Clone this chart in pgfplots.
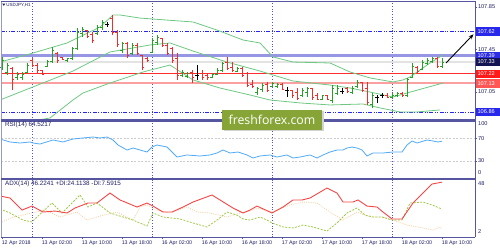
\documentclass[border=0pt]{standalone}
\usepackage{pgfplots}
\pgfplotsset{compat=1.18}
\usepackage{pgfplotstable}
\usepackage{fontspec}
\setmainfont{Liberation Sans}
\newfontfamily\wmfont{Open Sans}
\usetikzlibrary{arrows.meta}

\definecolor{frame}{RGB}{85,85,160}
\definecolor{navy}{RGB}{30,30,100}
\definecolor{barup}{RGB}{40,160,40}
\definecolor{bardn}{RGB}{238,45,45}
\definecolor{band}{RGB}{110,200,130}
\definecolor{sep}{RGB}{80,80,225}
\definecolor{lvlblue}{RGB}{40,40,235}
\definecolor{rsiblue}{RGB}{80,170,250}
\definecolor{adxred}{RGB}{245,70,70}
\definecolor{pdi}{RGB}{160,200,70}
\definecolor{mdi}{RGB}{245,210,165}
\definecolor{wm}{RGB}{135,165,55}
\definecolor{lav}{RGB}{150,150,228}
\definecolor{pinkl}{RGB}{250,160,160}
\definecolor{redl}{RGB}{255,45,45}
\definecolor{box39}{RGB}{45,45,225}
\definecolor{box33}{RGB}{20,20,85}
\definecolor{box22}{RGB}{255,25,25}
\definecolor{box13}{RGB}{255,85,85}

\newcommand\pfont{\fontsize{5.6}{6}\selectfont}
\newcommand\xfont{\fontsize{5.3}{6}\selectfont}
\newcommand\ifont{\fontsize{6.3}{7}\selectfont}
\newcommand\tfont{\fontsize{4.5}{5}\selectfont}

\pgfdeclareplotmark{otick}{\pgfpathmoveto{\pgfqpoint{-2pt}{0pt}}\pgfpathlineto{\pgfqpoint{0pt}{0pt}}\pgfusepathqstroke}
\pgfdeclareplotmark{ctick}{\pgfpathmoveto{\pgfqpoint{0pt}{0pt}}\pgfpathlineto{\pgfqpoint{2pt}{0pt}}\pgfusepathqstroke}

\pgfplotstableread{
i o h l c d
0 107.284 107.379 107.256 107.350 1
1 107.237 107.322 107.209 107.303 1
2 107.275 107.284 107.067 107.162 2
3 107.181 107.237 107.162 107.218 1
4 107.190 107.237 107.162 107.218 1
5 107.237 107.322 107.228 107.303 1
6 107.350 107.369 107.284 107.303 2
7 107.303 107.322 107.228 107.256 2
8 107.256 107.256 107.209 107.218 2
9 107.294 107.350 107.284 107.341 1
10 107.341 107.473 107.322 107.445 1
11 107.416 107.426 107.322 107.350 2
12 107.379 107.379 107.350 107.360 2
13 107.350 107.369 107.331 107.369 1
14 107.369 107.473 107.350 107.463 1
15 107.463 107.652 107.445 107.614 1
16 107.605 107.661 107.567 107.643 1
17 107.633 107.633 107.558 107.577 2
18 107.595 107.614 107.511 107.539 2
19 107.605 107.680 107.586 107.661 1
20 107.661 107.727 107.633 107.709 1
21 107.690 107.709 107.661 107.690 0
22 107.746 107.775 107.586 107.614 2
23 107.614 107.633 107.473 107.501 2
24 107.445 107.520 107.416 107.511 1
25 107.511 107.520 107.369 107.397 2
26 107.416 107.511 107.397 107.492 1
27 107.492 107.511 107.397 107.416 2
28 107.397 107.397 107.256 107.284 2
29 107.369 107.379 107.331 107.350 2
30 107.426 107.558 107.416 107.539 1
31 107.520 107.586 107.492 107.567 1
32 107.558 107.558 107.473 107.492 2
33 107.492 107.511 107.397 107.416 2
34 107.463 107.473 107.322 107.350 2
35 107.369 107.416 107.162 107.209 2
36 107.209 107.256 107.190 107.237 1
37 107.199 107.237 107.181 107.228 1
38 107.237 107.256 107.133 107.190 2
39 107.209 107.303 107.162 107.209 0
40 107.228 107.256 107.162 107.181 2
41 107.209 107.228 107.162 107.181 2
42 107.190 107.228 107.181 107.218 1
43 107.218 107.275 107.209 107.256 1
44 107.256 107.331 107.237 107.313 1
45 107.331 107.379 107.256 107.275 2
46 107.284 107.331 107.237 107.256 2
47 107.246 107.284 107.237 107.275 1
48 107.275 107.284 107.190 107.209 2
49 107.228 107.237 107.096 107.114 2
50 107.124 107.162 107.086 107.105 2
51 107.048 107.096 107.020 107.086 1
52 107.077 107.133 107.048 107.114 1
53 107.124 107.143 107.048 107.067 2
54 107.105 107.143 107.096 107.133 1
55 107.096 107.133 107.086 107.124 1
56 107.124 107.133 107.067 107.077 2
57 107.067 107.096 107.001 107.067 0
58 107.067 107.067 106.992 107.011 2
59 107.048 107.086 106.973 106.992 2
60 107.020 107.086 107.001 107.067 1
61 107.048 107.096 107.001 107.086 1
62 107.086 107.086 106.973 107.001 2
63 107.020 107.039 106.973 106.982 2
64 106.982 107.020 106.973 107.011 1
65 107.011 107.020 106.973 106.982 2
66 106.973 107.114 106.945 107.086 1
67 107.039 107.114 107.020 107.086 1
68 107.058 107.086 107.030 107.058 0
69 107.086 107.096 107.039 107.058 2
70 107.048 107.105 107.030 107.086 1
71 107.096 107.162 107.086 107.143 1
72 107.143 107.143 107.048 107.067 2
73 107.086 107.143 106.926 106.945 2
74 106.935 107.039 106.898 107.011 1
75 107.001 107.020 106.945 107.001 0
76 107.011 107.039 106.992 107.011 0
77 107.020 107.039 106.992 107.001 2
78 107.001 107.039 106.992 107.020 1
79 107.011 107.048 107.001 107.030 1
80 107.030 107.048 107.001 107.011 2
81 107.011 107.181 107.001 107.162 1
82 107.181 107.322 107.181 107.294 1
83 107.284 107.294 107.228 107.246 2
84 107.265 107.350 107.256 107.331 1
85 107.322 107.369 107.303 107.350 1
86 107.341 107.379 107.322 107.369 1
87 107.369 107.379 107.275 107.294 2
88 107.294 107.369 107.275 107.331 1
}\ohlc

\newcommand\ohlcplot[2]{%
\addplot[draw=none, mark=none, forget plot, error bars/.cd, y dir=both, y explicit, error mark=none, error bar style={draw=#2, line width=0.9pt}]
  table[x=i, y expr={\thisrow{d}==#1 ? \thisrow{c} : nan}, y error plus expr={\thisrow{h}-\thisrow{c}}, y error minus expr={\thisrow{c}-\thisrow{l}}] {\ohlc};
\addplot[only marks, mark=otick, mark options={draw=#2, line width=0.9pt}, forget plot]
  table[x=i, y expr={\thisrow{d}==#1 ? \thisrow{o} : nan}] {\ohlc};
\addplot[only marks, mark=ctick, mark options={draw=#2, line width=0.9pt}, forget plot]
  table[x=i, y expr={\thisrow{d}==#1 ? \thisrow{c} : nan}] {\ohlc};
}

\pgfplotsset{
  panel/.style={
    scale only axis, width=474pt, xmin=-0.2, xmax=94.6,
    anchor=south west,
    axis line style={draw=none},
    clip mode=individual,
    xtick=\empty,
    extra x ticks={6,30,54,78},
    extra x tick labels={},
    extra x tick style={grid=major, major tick length=0pt},
    major grid style={sep, line width=0.6pt, dash pattern=on 0.7pt off 2pt},
    ytick pos=right, yticklabel pos=right,
    tick align=outside, major tick length=2pt,
    tick style={frame, line width=0.4pt},
    yticklabel style={font=\pfont, text=navy, inner sep=0.8pt},
    /pgf/number format/assume math mode=true,
  },
}
\tikzset{
  boxlab/.style={anchor=west, text=white, font=\pfont, inner xsep=1.4pt, inner ysep=0pt,
    minimum height=8.5pt, text width=21pt, align=left},
}

\begin{document}
\begin{tikzpicture}[x=1pt, y=1pt]
\useasboundingbox (0,0) rectangle (500,250);

% ---------------- main price panel ----------------
\begin{axis}[panel, at={(1pt,130pt)}, height=119pt,
  ymin=106.784, ymax=107.907,
  ytick={107.05,107.45,107.85},
  extra y ticks={106.85,107.25,107.65}, extra y tick labels={},
  yticklabel style={/pgf/number format/.cd, fixed, fixed zerofill, precision=2}]
% horizontal levels
\addplot[gray!22, line width=2.6pt] coordinates {(-0.2,107.331) (94.6,107.331)};
\addplot[lav, line width=2.6pt] coordinates {(-0.2,107.39) (94.6,107.39)};
\addplot[pinkl, line width=1.8pt] coordinates {(-0.2,107.13) (94.6,107.13)};
\addplot[redl, line width=0.8pt] coordinates {(-0.2,107.22) (94.6,107.22)};
\addplot[lvlblue, line width=0.8pt, dash pattern=on 4pt off 1.4pt on 1pt off 1.4pt on 1pt off 1.4pt] coordinates {(-0.2,107.62) (94.6,107.62)};
\addplot[lvlblue, line width=0.8pt, dash pattern=on 4pt off 1.4pt on 1pt off 1.4pt on 1pt off 1.4pt] coordinates {(-0.2,106.86) (94.6,106.86)};
% Bollinger bands
\addplot[band, line width=0.8pt] coordinates {(-0.4,107.331) (6.2,107.416) (13,107.511) (19.6,107.661) (22.2,107.775) (23.6,107.775) (27.6,107.746) (33,107.727) (38.2,107.709) (43,107.633) (48.2,107.539) (51.6,107.511) (54.2,107.379) (58.2,107.331) (65.6,107.322) (69.6,107.237) (73.6,107.181) (78.2,107.143) (80.2,107.162) (81.6,107.190) (85.6,107.322) (88.2,107.397)};
\addplot[band, line width=0.8pt] coordinates {(-0.4,106.973) (6.2,107.096) (14.2,107.246) (21.6,107.426) (29.6,107.492) (33.6,107.511) (38.2,107.435) (45,107.331) (51.6,107.246) (58.2,107.152) (65.6,107.114) (69.6,107.086) (73.6,107.048) (78.2,107.001) (81,107.039) (88.2,107.133)};
\addplot[band, line width=0.8pt] coordinates {(-0.4,106.615) (6.2,106.775) (9.6,106.803) (14.2,106.973) (16.2,107.039) (21.6,107.133) (28.2,107.237) (33.6,107.303) (38.2,107.162) (43.6,107.086) (49.6,107.020) (53.6,106.973) (59.6,106.945) (65.6,106.926) (72.2,106.935) (75.6,106.898) (79.6,106.860) (83,106.860) (87.6,106.879)};
% price bars
\ohlcplot{1}{barup}
\ohlcplot{2}{bardn}
\ohlcplot{0}{black}
% arrow
\draw[-{Stealth[length=5pt,width=4pt]}, line width=0.9pt] (axis cs:88.8,107.322) -- (axis cs:94.3,107.593);
\coordinate (L62) at (axis cs:94.6,107.62);
\coordinate (L39) at (axis cs:94.6,107.39);
\coordinate (L33) at (axis cs:94.6,107.331);
\coordinate (L22) at (axis cs:94.6,107.22);
\coordinate (L13) at (axis cs:94.6,107.13);
\coordinate (L86) at (axis cs:94.6,106.86);
\end{axis}

% ---------------- RSI panel ----------------
\begin{axis}[panel, at={(1pt,72pt)}, height=57pt,
  ymin=0, ymax=100, ytick={30,70}]
\addplot[gray!40, line width=0.6pt, dash pattern=on 2pt off 1.5pt] coordinates {(-0.2,70) (94.6,70)};
\addplot[gray!40, line width=0.6pt, dash pattern=on 2pt off 1.5pt] coordinates {(-0.2,30) (94.6,30)};
\addplot[rsiblue, line width=0.8pt] coordinates {(-0.4,68.4) (1.6,63.2) (3.6,61.4) (5.6,63.2) (6.2,61.4) (7.6,59.6) (10.2,66.7) (12.2,63.2) (14.2,68.4) (16.2,70.2) (18.2,71.9) (19.6,70.2) (21,71.9) (22.2,66.7) (23.2,57.9) (25,49.1) (26.2,52.6) (27.6,49.1) (29,45.6) (30,54.4) (31,57.9) (33,54.4) (33.6,49.1) (35,36.8) (37,40.4) (39.6,38.6) (41.6,40.4) (43,43.9) (44.2,49.1) (45.6,43.9) (47.2,45.6) (49,40.4) (50.2,35.1) (51.6,38.6) (53.6,40.4) (55,36.8) (57,40.4) (58.2,35.1) (59.6,36.8) (61.6,40.4) (63,35.1) (64.2,40.4) (65.6,45.6) (67,49.1) (68.2,49.1) (69,52.6) (70,54.4) (71,52.6) (72,49.1) (73,38.6) (74.2,43.9) (76.2,43.9) (78.2,45.6) (80,45.6) (81,57.9) (82,64.9) (83,61.4) (85,66.7) (86.2,64.9) (87.2,63.2) (88,64.52)};
\end{axis}

% ---------------- ADX panel ----------------
\begin{axis}[panel, at={(1pt,13pt)}, height=57pt,
  ymin=1.18, ymax=48, ytick=\empty,
  xtick={0,8,...,88}, xtick pos=bottom,
  xticklabels={12 Apr 2018, 13 Apr 02:00, 13 Apr 10:00, 13 Apr 18:00, 16 Apr 02:00, 16 Apr 10:00, 16 Apr 18:00, 17 Apr 02:00, 17 Apr 10:00, 17 Apr 18:00, 18 Apr 02:00, 18 Apr 10:00},
  xticklabel style={font=\xfont, text=navy, anchor=north west, inner sep=0pt, yshift=-1.2pt, xshift=-0.4pt}]
\addplot[mdi, line width=0.8pt, dash pattern=on 1pt off 1.2pt] coordinates {(-0.4,12.7) (2.2,17.6) (6,20.9) (8.6,23.3) (11.6,17.6) (15,21.7) (17,15.1) (19.6,18.4) (23,21.7) (26.2,15.1) (27.6,25.8) (29,27.5) (31,23.3) (33.6,20.9) (37,25.8) (39,21.7) (41.6,20.9) (45,17.6) (47.6,20.9) (49.6,22.5) (51,25.0) (54,21.7) (57.6,27.5) (60.2,29.9) (63,29.1) (65.6,21.7) (68.2,15.1) (71,21.7) (73.6,17.6) (76.2,17.6) (78.2,15.1) (81,11.0) (84.2,8.6) (86.2,6.9) (87.6,9.4) (88,7.59)};
\addplot[pdi, line width=0.8pt, dash pattern=on 2pt off 1.3pt] coordinates {(-0.4,24.2) (1.6,20.9) (4.2,15.1) (6,13.5) (7,17.6) (10,29.1) (12,20.9) (14,29.1) (15.6,35.7) (17.2,25.8) (19,29.1) (21.6,20.9) (24.2,17.6) (26.2,15.1) (29,10.2) (30.2,20.9) (32.2,17.6) (35.6,16.0) (38.2,12.7) (41,9.4) (43,15.1) (45,21.7) (47,19.2) (48.2,16.0) (49.6,15.1) (51.6,17.6) (53,15.1) (54,12.7) (56.2,9.4) (58.2,8.6) (60.2,11.0) (62.2,9.4) (65,6.1) (67,12.7) (69,20.9) (71,25.0) (72.6,19.2) (74.2,17.6) (76,17.6) (78,15.1) (80,15.1) (81.6,29.1) (84.2,29.9) (86,27.5) (88,24.11)};
\addplot[adxred, line width=0.9pt] coordinates {(-0.4,34.9) (1.6,33.2) (4,23.3) (6,26.6) (8.2,21.7) (10.6,22.5) (13,20.9) (14.6,25.0) (17.2,29.1) (19,29.1) (21.6,37.3) (23.6,31.6) (27,25.8) (29,29.1) (30.2,26.6) (32.2,21.7) (34,21.7) (36.2,25.8) (38.2,29.9) (42,35.7) (43.6,31.6) (46.2,25.0) (48.2,20.9) (49.6,23.3) (51,26.6) (54,20.9) (56.2,25.8) (58.2,31.6) (60,31.6) (61.6,33.2) (65,41.4) (67,37.3) (68.2,29.9) (70.2,29.9) (71.2,31.6) (73,26.6) (75,25.8) (76.2,21.7) (78,16.0) (80,16.0) (82.2,29.1) (84.2,37.3) (86,44.7) (88,46.22)};
\end{axis}

% ---------------- frame ----------------
\draw[frame!60, line width=0.5pt] (1,13) -- (1,249);
\draw[frame, line width=0.6pt] (1,249) -- (475,249);
\draw[frame, line width=0.7pt] (475,13) -- (475,249);
\draw[frame, line width=2.4pt] (1,129.5) -- (475,129.5);
\draw[frame, line width=2.4pt] (1,71) -- (475,71);
\draw[frame, line width=0.7pt] (1,13) -- (475,13);

% price boxes
\node[boxlab, fill=lvlblue, xshift=1pt] at (L62) {107.62};
\node[boxlab, fill=box39, xshift=1pt] at (L39) {107.39};
\node[boxlab, fill=box33, xshift=1pt] at (L33) {107.33};
\node[boxlab, fill=box22, xshift=1pt] at (L22) {107.22};
\node[boxlab, fill=box13, xshift=1pt] at (L13) {107.13};
\node[boxlab, fill=lvlblue, xshift=1pt] at (L86) {106.86};

% indicator scale end labels
\node[anchor=west, font=\pfont, text=navy, inner sep=0pt] at (478,126) {100};
\node[anchor=west, font=\pfont, text=navy, inner sep=0pt] at (478,77) {0};
\node[anchor=west, font=\pfont, text=navy, inner sep=0pt] at (478,66) {48};
\node[anchor=west, font=\pfont, text=navy, inner sep=0pt] at (478,18) {2};

% titles
\fill[navy] (2.2,246.4) -- (5.4,246.4) -- (3.8,244.2) -- cycle;
\node[anchor=west, font=\tfont, text=navy, inner sep=0pt] at (6.2,244.8) {USDJPY,H1};
\node[anchor=west, font=\ifont, text=navy, inner sep=0pt] at (5,125) {RSI(14) 64.5217};
\node[anchor=west, font=\ifont, text=navy, inner sep=0pt] at (5,66) {ADX(14) 46.2241 +DI:24.1138 -DI:7.5915};

% watermark
\fill[gray!35] (223.5,119) rectangle (323.5,139);
\fill[wm] (222,120) rectangle (322,140);
\node[font=\wmfont\fontsize{12.3}{14}\selectfont, text=white, inner sep=0pt] at (272,130.3) {freshforex.com};
\end{tikzpicture}
\end{document}
